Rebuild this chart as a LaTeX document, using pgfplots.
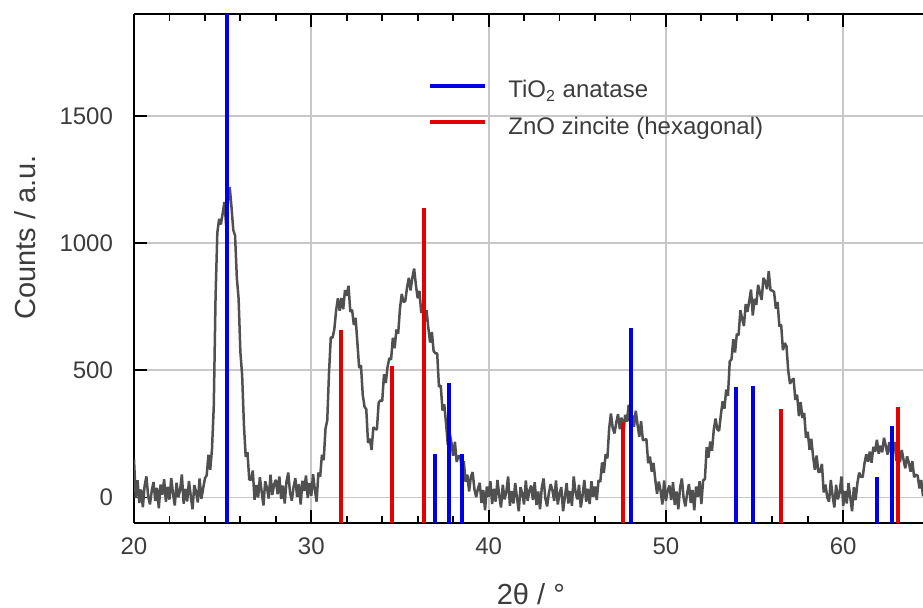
\documentclass[border=0pt]{standalone}
\usepackage{pgfplots}
\usepackage{pgfplotstable}
\pgfplotsset{compat=1.18}
\usepackage{fontspec}
\setmainfont{Liberation Sans}

\definecolor{curvegray}{RGB}{80,80,80}
\definecolor{gridgray}{RGB}{200,200,200}
\definecolor{txtgray}{RGB}{60,60,60}
\definecolor{stickblue}{RGB}{0,0,230}
\definecolor{stickred}{RGB}{228,0,0}

% measured pattern (2theta, counts)
\pgfplotstableread[row sep=\\]{
x y\\
20.0 150\\ 20.1 -2\\ 20.2 68\\ 20.3 -21\\ 20.4 32\\ 20.5 -38\\ 20.6 47\\ 20.7 83\\ 20.8 5\\ 20.9 -27\\
21.0 26\\ 21.1 61\\ 21.2 -13\\ 21.3 38\\ 21.4 -42\\ 21.5 51\\ 21.6 11\\ 21.7 72\\ 21.8 -17\\ 21.9 42\\
22.0 -8\\ 22.1 77\\ 22.2 16\\ 22.3 -31\\ 22.4 58\\ 22.5 1\\ 22.6 29\\ 22.7 91\\ 22.8 -24\\ 22.9 34\\
23.0 -15\\ 23.1 65\\ 23.2 8\\ 23.3 -46\\ 23.4 49\\ 23.5 23\\ 23.6 -19\\ 23.7 75\\ 23.8 -5\\ 23.9 36\\
24.0 75\\ 24.1 88\\ 24.2 168\\ 24.3 109\\ 24.4 192\\ 24.5 360\\ 24.6 787\\ 24.7 1040\\ 24.8 1095\\ 24.9 1073\\
25.0 1116\\ 25.1 1161\\ 25.2 1067\\ 25.3 1168\\ 25.4 1220\\ 25.5 1141\\ 25.6 1051\\ 25.7 1030\\ 25.8 863\\ 25.9 782\\
26.0 572\\ 26.1 480\\ 26.2 286\\ 26.3 160\\ 26.4 178\\ 26.5 71\\ 26.6 69\\ 26.7 106\\ 26.8 -9\\ 26.9 49\\
27.0 0\\ 27.1 80\\ 27.2 23\\ 27.3 -31\\ 27.4 64\\ 27.5 38\\ 27.6 -4\\ 27.7 90\\ 27.8 10\\ 27.9 51\\
28.0 70\\ 28.1 13\\ 28.2 83\\ 28.3 -6\\ 28.4 47\\ 28.5 -23\\ 28.6 62\\ 28.7 98\\ 28.8 20\\ 28.9 -12\\
29.0 41\\ 29.1 76\\ 29.2 2\\ 29.3 53\\ 29.4 -27\\ 29.5 66\\ 29.6 26\\ 29.7 87\\ 29.8 -2\\ 29.9 57\\
30.0 7\\ 30.1 92\\ 30.2 31\\ 30.3 -16\\ 30.4 98\\ 30.5 82\\ 30.6 168\\ 30.7 147\\ 30.8 270\\ 30.9 304\\
31.0 492\\ 31.1 630\\ 31.2 628\\ 31.3 662\\ 31.4 735\\ 31.5 783\\ 31.6 734\\ 31.7 784\\ 31.8 740\\ 31.9 815\\
32.0 793\\ 32.1 832\\ 32.2 730\\ 32.3 738\\ 32.4 678\\ 32.5 706\\ 32.6 607\\ 32.7 509\\ 32.8 520\\ 32.9 405\\
33.0 357\\ 33.1 347\\ 33.2 215\\ 33.3 231\\ 33.4 187\\ 33.5 276\\ 33.6 270\\ 33.7 267\\ 33.8 373\\ 33.9 382\\
34.0 379\\ 34.1 484\\ 34.2 450\\ 34.3 513\\ 34.4 548\\ 34.5 542\\ 34.6 628\\ 34.7 587\\ 34.8 660\\ 34.9 644\\
35.0 742\\ 35.1 800\\ 35.2 768\\ 35.3 772\\ 35.4 825\\ 35.5 863\\ 35.6 814\\ 35.7 864\\ 35.8 900\\ 35.9 835\\
36.0 783\\ 36.1 812\\ 36.2 725\\ 36.3 753\\ 36.4 693\\ 36.5 736\\ 36.6 667\\ 36.7 609\\ 36.8 650\\ 36.9 575\\
37.0 567\\ 37.1 567\\ 37.2 435\\ 37.3 441\\ 37.4 342\\ 37.5 366\\ 37.6 290\\ 37.7 207\\ 37.8 253\\ 37.9 217\\
38.0 164\\ 38.1 219\\ 38.2 140\\ 38.3 163\\ 38.4 163\\ 38.5 102\\ 38.6 143\\ 38.7 62\\ 38.8 90\\ 38.9 24\\
39.0 82\\ 39.1 100\\ 39.2 33\\ 39.3 2\\ 39.4 35\\ 39.5 58\\ 39.6 -21\\ 39.7 30\\ 39.8 -50\\ 39.9 43\\
40.0 3\\ 40.1 64\\ 40.2 -25\\ 40.3 34\\ 40.4 -16\\ 40.5 69\\ 40.6 8\\ 40.7 -39\\ 40.8 50\\ 40.9 -7\\
41.0 21\\ 41.1 83\\ 41.2 -32\\ 41.3 26\\ 41.4 -23\\ 41.5 57\\ 41.6 0\\ 41.7 -54\\ 41.8 41\\ 41.9 15\\
42.0 -27\\ 42.1 67\\ 42.2 -13\\ 42.3 28\\ 42.4 47\\ 42.5 -10\\ 42.6 60\\ 42.7 -29\\ 42.8 24\\ 42.9 -46\\
43.0 39\\ 43.1 75\\ 43.2 -3\\ 43.3 -35\\ 43.4 18\\ 43.5 53\\ 43.6 28\\ 43.7 -13\\ 43.8 67\\ 43.9 -27\\
44.0 15\\ 44.1 41\\ 44.2 -54\\ 44.3 0\\ 44.4 57\\ 44.5 -23\\ 44.6 26\\ 44.7 -32\\ 44.8 83\\ 44.9 21\\
45.0 -7\\ 45.1 50\\ 45.2 -39\\ 45.3 8\\ 45.4 69\\ 45.5 -16\\ 45.6 34\\ 45.7 -25\\ 45.8 64\\ 45.9 3\\
46.0 43\\ 46.1 -10\\ 46.2 68\\ 46.3 62\\ 46.4 138\\ 46.5 97\\ 46.6 170\\ 46.7 154\\ 46.8 272\\ 46.9 330\\
47.0 273\\ 47.1 252\\ 47.2 295\\ 47.3 328\\ 47.4 269\\ 47.5 314\\ 47.6 250\\ 47.7 325\\ 47.8 298\\ 47.9 365\\
48.0 280\\ 48.1 323\\ 48.2 278\\ 48.3 341\\ 48.4 287\\ 48.5 239\\ 48.6 300\\ 48.7 225\\ 48.8 227\\ 48.9 230\\
49.0 135\\ 49.1 161\\ 49.2 102\\ 49.3 136\\ 49.4 70\\ 49.5 15\\ 49.6 63\\ 49.7 27\\ 49.8 -27\\ 49.9 67\\
50.0 -13\\ 50.1 28\\ 50.2 47\\ 50.3 -10\\ 50.4 60\\ 50.5 -29\\ 50.6 24\\ 50.7 -46\\ 50.8 39\\ 50.9 75\\
51.0 -3\\ 51.1 -35\\ 51.2 18\\ 51.3 53\\ 51.4 -21\\ 51.5 30\\ 51.6 -50\\ 51.7 43\\ 51.8 3\\ 51.9 64\\
52.0 -25\\ 52.1 68\\ 52.2 72\\ 52.3 198\\ 52.4 157\\ 52.5 220\\ 52.6 184\\ 52.7 267\\ 52.8 310\\ 52.9 268\\
53.0 262\\ 53.1 325\\ 53.2 378\\ 53.3 349\\ 53.4 424\\ 53.5 400\\ 53.6 535\\ 53.7 543\\ 53.8 622\\ 53.9 570\\
54.0 643\\ 54.1 638\\ 54.2 736\\ 54.3 702\\ 54.4 674\\ 54.5 760\\ 54.6 730\\ 54.7 772\\ 54.8 817\\ 54.9 715\\
55.0 781\\ 55.1 757\\ 55.2 836\\ 55.3 805\\ 55.4 777\\ 55.5 863\\ 55.6 850\\ 55.7 819\\ 55.8 889\\ 55.9 815\\
56.0 813\\ 56.1 808\\ 56.2 742\\ 56.3 768\\ 56.4 672\\ 56.5 680\\ 56.6 579\\ 56.7 607\\ 56.8 595\\ 56.9 498\\
57.0 447\\ 57.1 460\\ 57.2 468\\ 57.3 384\\ 57.4 404\\ 57.5 320\\ 57.6 375\\ 57.7 313\\ 57.8 332\\ 57.9 235\\
58.0 258\\ 58.1 188\\ 58.2 231\\ 58.3 162\\ 58.4 109\\ 58.5 165\\ 58.6 100\\ 58.7 102\\ 58.8 132\\ 58.9 20\\
59.0 51\\ 59.1 0\\ 59.2 -16\\ 59.3 69\\ 59.4 8\\ 59.5 -39\\ 59.6 50\\ 59.7 -7\\ 59.8 21\\ 59.9 83\\
60.0 -32\\ 60.1 26\\ 60.2 -23\\ 60.3 57\\ 60.4 0\\ 60.5 -54\\ 60.6 41\\ 60.7 -10\\ 60.8 57\\ 60.9 98\\
61.0 81\\ 61.1 81\\ 61.2 134\\ 61.3 170\\ 61.4 140\\ 61.5 181\\ 61.6 137\\ 61.7 199\\ 61.8 180\\ 61.9 227\\
62.0 172\\ 62.1 204\\ 62.2 178\\ 62.3 235\\ 62.4 203\\ 62.5 169\\ 62.6 218\\ 62.7 174\\ 62.8 185\\ 62.9 218\\
63.0 144\\ 63.1 173\\ 63.2 139\\ 63.3 187\\ 63.4 150\\ 63.5 115\\ 63.6 162\\ 63.7 137\\ 63.8 102\\ 63.9 143\\
64.0 80\\ 64.1 90\\ 64.2 86\\ 64.3 36\\ 64.4 69\\ 64.5 5\\
}\xrd

% reference sticks, each one drawn from the bottom of the axis
\pgfplotstableread[row sep=\\]{
x y\\
25.27 -100\\ 25.27 1950\\ nan nan\\
36.96 -100\\ 36.96 172\\ nan nan\\
37.79 -100\\ 37.79 450\\ nan nan\\
38.52 -100\\ 38.52 172\\ nan nan\\
48.04 -100\\ 48.04 665\\ nan nan\\
53.94 -100\\ 53.94 433\\ nan nan\\
54.92 -100\\ 54.92 440\\ nan nan\\
61.90 -100\\ 61.90 80\\ nan nan\\
62.73 -100\\ 62.73 280\\
}\anatase

\pgfplotstableread[row sep=\\]{
x y\\
31.66 -100\\ 31.66 659\\ nan nan\\
34.56 -100\\ 34.56 515\\ nan nan\\
36.36 -100\\ 36.36 1136\\ nan nan\\
47.57 -100\\ 47.57 297\\ nan nan\\
56.48 -100\\ 56.48 348\\ nan nan\\
63.10 -100\\ 63.10 356\\
}\zincite

\begin{document}
\begin{tikzpicture}
\useasboundingbox (-67pt,-42pt) rectangle (394.5pt,261.5pt);
\begin{axis}[
    scale only axis,
    width=394.5pt,
    height=254.5pt,
    xmin=20, xmax=64.5,
    ymin=-100, ymax=1900,
    axis y line*=left,
    axis line style={black, line width=1pt},
    xtick={20,30,40,50,60},
    minor x tick num=4,
    ytick={0,500,1000,1500},
    tick align=inside,
    major tick length=6.5pt,
    minor tick length=3.5pt,
    every tick/.style={black, line width=0.9pt},
    grid=major,
    major grid style={gridgray, line width=0.9pt},
    /pgf/number format/assume math mode=true,
    /pgf/number format/1000 sep={},
    tick label style={font=\fontsize{12}{14}\selectfont, text=txtgray},
    xticklabel style={yshift=-4pt},
    yticklabel style={xshift=-7pt},
    xlabel={2θ / °},
    ylabel={Counts / a.u.},
    label style={font=\fontsize{14.5}{17}\selectfont, text=txtgray},
    xlabel style={at={(axis description cs:0.503,-0.1395)}, anchor=center},
    ylabel style={at={(axis description cs:-0.1382,0.561)}, anchor=center},
    legend style={draw=none, fill=none, at={(axis description cs:0.3726,0.870)},
        anchor=north west, inner sep=0pt, row sep=8pt,
        font=\fontsize{12}{14}\selectfont, text=txtgray,
        nodes={inner sep=0pt},
        /tikz/every odd column/.append style={column sep=10.5pt}},
    legend cell align=left,
    legend image code/.code={\draw[#1] (0pt,2.5pt) -- (27.5pt,2.5pt);},
]
\addplot[curvegray, line width=1.25pt, sharp plot, line join=bevel, forget plot] table {\xrd};
\addplot[stickblue, line width=2pt, unbounded coords=jump] table {\anatase};
\addlegendentry{TiO\textsubscript{2} anatase}
\addplot[stickred, line width=2pt, unbounded coords=jump] table {\zincite};
\addlegendentry{ZnO zincite (hexagonal)}
\end{axis}
\end{tikzpicture}
\end{document}
